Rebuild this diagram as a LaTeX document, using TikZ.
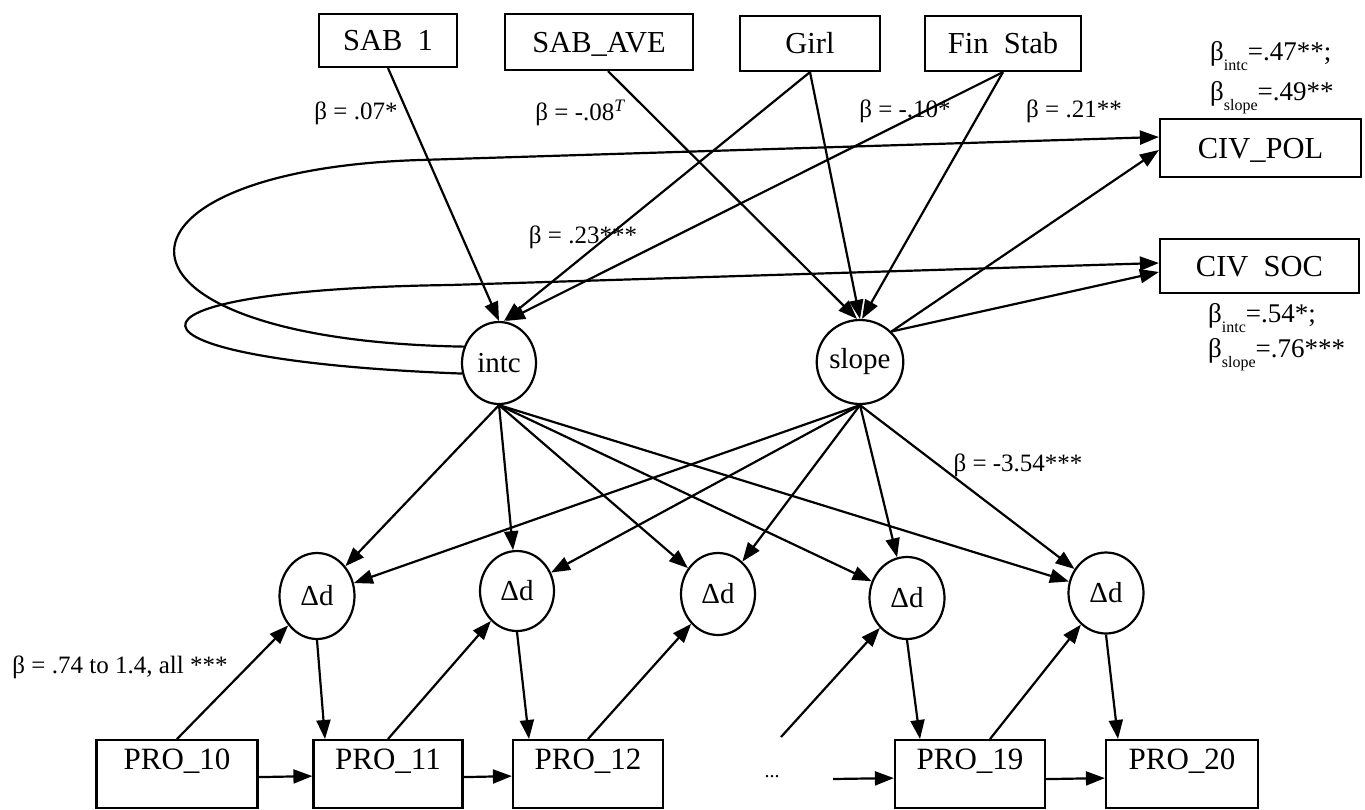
\documentclass[tikz,border=0pt]{standalone}
\usepackage{fontspec}
\setmainfont{Liberation Serif}
\usetikzlibrary{arrows.meta,shapes.geometric}
\newcommand{\bsub}[1]{β\raisebox{-10pt}{\fontsize{16}{16}\selectfont #1}}
\begin{document}
\begin{tikzpicture}[x=1pt,y=-1pt,
  box/.style={draw,line width=2.2pt,rectangle,inner sep=0pt,font=\fontsize{30.5}{36}\selectfont,text height=20pt,text depth=0pt},
  pbox/.style={draw,line width=2.2pt,rectangle,inner xsep=0pt,inner ysep=0pt,font=\fontsize{31}{36}\selectfont,text height=29pt,text depth=39pt,anchor=north},
  lat/.style={draw,line width=2.2pt,ellipse,inner sep=0pt,font=\fontsize{29}{34}\selectfont},
  lbl/.style={font=\fontsize{25}{30}\selectfont,inner sep=0pt},
  rlbl/.style={font=\fontsize{27}{30}\selectfont,inner sep=0pt,anchor=base west},
  arr/.style={line width=2.2pt,-{Triangle[length=19pt,width=14pt]}}]
\useasboundingbox (0,0) rectangle (1365,809);
% top boxes
\node[box,minimum width=138pt,minimum height=53pt] (sab1) at (388,40.5) {SAB\ \ 1};
\node[box,minimum width=188pt,minimum height=56pt] (sabave) at (599,42) {SAB\_AVE};
\node[box,minimum width=140pt,minimum height=55pt] (girl) at (810,43.5) {Girl};
\node[box,minimum width=156pt,minimum height=55pt] (fin) at (1003,43.5) {Fin\ \ Stab};
\node[box,minimum width=201pt,minimum height=58pt] (civpol) at (1260.5,148) {CIV\_POL};
\node[box,minimum width=199pt,minimum height=54pt] (civsoc) at (1259.5,266) {CIV\ \ SOC};
% latent
\node[lat,minimum width=74pt,minimum height=82pt] (intc) at (499,363) {intc};
\node[lat,minimum width=76pt,minimum height=84pt] (slope) at (860,362) {slope};
\node[lat,minimum width=75pt,minimum height=86pt] (d1) at (317,596) {Δd};
\node[lat,minimum width=74pt,minimum height=80pt] (d2) at (517,591) {Δd};
\node[lat,minimum width=74pt,minimum height=82pt] (d3) at (718,594) {Δd};
\node[lat,minimum width=75pt,minimum height=82pt] (d4) at (907,598) {Δd};
\node[lat,minimum width=75pt,minimum height=81pt] (d5) at (1106,593) {Δd};
% bottom boxes
\node[pbox,minimum width=161pt] (p10) at (177,739) {PRO\_10};
\node[pbox,minimum width=149pt] (p11) at (388,739) {PRO\_11};
\node[pbox,minimum width=150pt] (p12) at (588,739) {PRO\_12};
\node[pbox,minimum width=150pt] (p19) at (970,739) {PRO\_19};
\node[pbox,minimum width=152pt] (p20) at (1182,739) {PRO\_20};
\node[font=\fontsize{20}{24}\selectfont,inner sep=0pt,anchor=base] (dots) at (772,777) {...};
% labels
\node[lbl] (l07) at (356,113) {β = .07*};
\node[lbl] (l08) at (580,113) {β = -.08\textsuperscript{\itshape T}};
\node[lbl] (l10) at (905,111) {β = -.10*};
\node[lbl] (l21) at (1074,111) {β = .21**};
\node[lbl] (l23) at (583,237) {β = .23***};
\node[lbl] (l354) at (1018,465) {β = -3.54***};
\node[lbl] (l74) at (120,667) {β = .74 to 1.4, all ***};
\node[rlbl] (rp1) at (1210,60) {\bsub{intc}=.47**;};
\node[rlbl] (rp2) at (1210,100) {\bsub{slope}=.49**};
\node[rlbl] (rs1) at (1208,322) {\bsub{intc}=.54*;};
\node[rlbl] (rs2) at (1208,357) {\bsub{slope}=.76***};
% arrows into intc and slope
\draw[arr] (sab1.south) -- (intc.north);
\draw[arr] (girl.south) -- ([xshift=5pt]intc.north);
\draw[arr] (fin.south) -- ([xshift=7pt]intc.north);
\draw[arr] ([xshift=9pt]sabave.south) -- ([xshift=-3pt]slope.north);
\draw[arr] (girl.south) -- (slope.north);
\draw[arr] (fin.south) -- ([xshift=2pt]slope.north);
% to outcomes
\draw[arr] (slope.north east) -- ([yshift=-2pt]civpol.west);
\draw[arr] (slope.north east) -- ([yshift=-6pt]civsoc.west);
\draw[arr] (intc.155) .. controls (80,340) and (90,170) .. (420,160) -- ([yshift=11pt]civpol.west);
\draw[arr] (intc.196) .. controls (100,360) and (90,290) .. (450,285) -- ([yshift=3pt]civsoc.west);
% intc and slope to delta d
\foreach \d in {d1,d2,d3,d4,d5}{
  \draw[arr] (intc.south) -- (\d);
  \draw[arr] (slope.south) -- (\d);
}
% bottom structure
\coordinate (free1) at (781,737);
\coordinate (free2) at (833,779);
\draw[arr] (p10.north) -- (d1);
\draw[arr] (d1.south) -- ([xshift=-63pt]p11.north);
\draw[arr] (p11.north) -- (d2);
\draw[arr] (d2.south) -- ([xshift=-59pt]p12.north);
\draw[arr] (p12.north) -- (d3);
\draw[arr] (free1) -- (d4);
\draw[arr] (d4.south) -- ([xshift=-50pt]p19.north);
\draw[arr] ([xshift=20pt]p19.north) -- (d5);
\draw[arr] (d5.south) -- ([xshift=-64pt]p20.north);
\draw[arr] ([yshift=-3pt]p10.east) -- ([yshift=-2pt]p11.west);
\draw[arr] ([yshift=-3pt]p11.east) -- ([yshift=-2pt]p12.west);
\draw[arr] (free2) -- ([yshift=-4pt]p19.west);
\draw[arr] ([yshift=-5pt]p19.east) -- ([yshift=-4pt]p20.west);
\end{tikzpicture}
\end{document}
